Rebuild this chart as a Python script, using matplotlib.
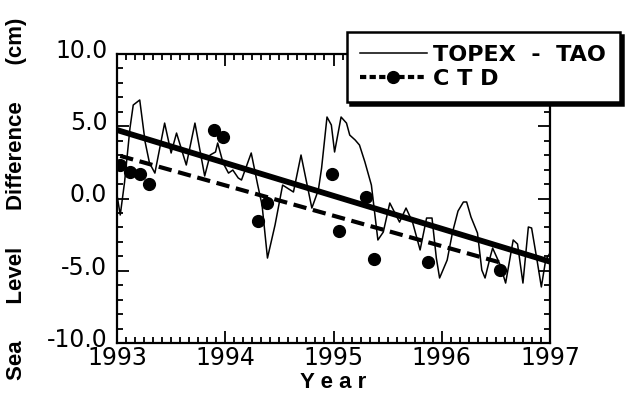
import numpy as np
import matplotlib
matplotlib.use("Agg")
import matplotlib.pyplot as plt
from matplotlib.lines import Line2D
from matplotlib.ticker import MultipleLocator, FormatStrFormatter
import matplotlib.transforms as mtransforms

plt.rcParams['font.family'] = ['Liberation Sans', 'DejaVu Sans']
plt.rcParams['axes.unicode_minus'] = False

# TOPEX - TAO sea level difference (cm)
topex_years = [1993.00, 1993.03, 1993.07, 1993.12, 1993.15, 1993.21, 1993.26, 1993.30,
               1993.35, 1993.44, 1993.50, 1993.55, 1993.64, 1993.72, 1993.81, 1993.86,
               1993.91, 1993.93, 1993.98, 1994.03, 1994.07, 1994.12, 1994.15, 1994.24,
               1994.30, 1994.34, 1994.39, 1994.46, 1994.53, 1994.63, 1994.70, 1994.80,
               1994.86, 1994.89, 1994.94, 1994.98, 1995.01, 1995.07, 1995.12, 1995.15,
               1995.20, 1995.24, 1995.29, 1995.35, 1995.41, 1995.46, 1995.52, 1995.61,
               1995.67, 1995.73, 1995.80, 1995.86, 1995.91, 1995.95, 1995.98, 1996.05,
               1996.10, 1996.15, 1996.20, 1996.23, 1996.27, 1996.33, 1996.37, 1996.40,
               1996.45, 1996.47, 1996.54, 1996.59, 1996.66, 1996.70, 1996.75, 1996.80,
               1996.83, 1996.88, 1996.92, 1996.96, 1997.00]
topex_diff = [0.24, -1.14, 1.14, 4.88, 6.47, 6.82, 3.91, 2.46,
              1.76, 5.22, 3.15, 4.53, 2.32, 5.22, 1.56, 3.01,
              3.22, 3.84, 2.46, 1.76, 1.97, 1.42, 1.28, 3.15,
              0.93, -0.45, -4.12, -1.83, 0.93, 0.45, 3.01, -0.66,
              0.59, 2.11, 5.64, 5.09, 3.22, 5.64, 5.22, 4.39,
              4.05, 3.70, 2.53, 0.93, -2.87, -2.32, -0.31, -1.63,
              -0.66, -1.63, -3.56, -1.35, -1.35, -4.12, -5.50, -4.26,
              -2.32, -0.87, -0.24, -0.24, -1.28, -2.39, -4.95, -5.50,
              -3.98, -3.43, -4.60, -5.85, -2.87, -3.15, -5.85, -1.97,
              -2.04, -4.26, -6.12, -4.26, -3.77]

# CTD estimates
ctd_years = [1993.03, 1993.12, 1993.21, 1993.30, 1993.90, 1993.98, 1994.30,
             1994.39, 1994.99, 1995.05, 1995.30, 1995.37, 1995.87, 1996.54]
ctd_diff = [2.32, 1.85, 1.70, 1.00, 4.74, 4.26, -1.56,
            -0.31, 1.70, -2.25, 0.10, -4.19, -4.39, -4.95]

# trend lines (end points)
topex_trend_years = [1993.0, 1997.0]
topex_trend = [4.74, -4.37]
ctd_trend_years = [1993.03, 1996.55]
ctd_trend = [2.95, -4.45]

fig = plt.figure(figsize=(6.27, 3.94), dpi=100)
ax = fig.add_axes([0.1866, 0.1294, 0.6906, 0.7335])

ax.plot(topex_years, topex_diff, color='k', lw=1.1)
ax.plot(topex_trend_years, topex_trend, color='k', lw=4.2, solid_capstyle='butt')
ax.plot(ctd_trend_years, ctd_trend, color='k', lw=3.0, dashes=(3.2, 1.6))
ax.plot(ctd_years, ctd_diff, 'o', color='k', ms=8.5)

ax.set_xlim(1993, 1997)
ax.set_ylim(-10, 10)
ax.xaxis.set_major_locator(MultipleLocator(1))
ax.xaxis.set_minor_locator(MultipleLocator(1 / 12))
ax.yaxis.set_major_locator(MultipleLocator(5))
ax.yaxis.set_minor_locator(MultipleLocator(1))
ax.xaxis.set_major_formatter(FormatStrFormatter('%d'))
ax.yaxis.set_major_formatter(FormatStrFormatter('%.1f'))

ax.tick_params(which='both', direction='in', top=True, right=True, width=1.3,
               labelsize=17)
ax.tick_params(which='major', length=8.5)
ax.tick_params(which='minor', length=4.2)
ax.tick_params(axis='x', pad=2)
ax.tick_params(axis='y', pad=7)
for sp in ax.spines.values():
    sp.set_linewidth(1.6)

# y tick labels sit a bit above their ticks in the original
shift = mtransforms.ScaledTranslation(0, 4 / 72, fig.dpi_scale_trans)
for lbl in ax.get_yticklabels():
    lbl.set_transform(lbl.get_transform() + shift)
for lbl in ax.get_xticklabels() + ax.get_yticklabels():
    lbl.set_fontfamily('DejaVu Sans')

ax.set_ylabel("Sea      Level      Difference      (cm)", fontsize=16, fontweight='bold')
ax.yaxis.set_label_coords(-0.208, 0.5)
ax.set_xlabel("Y e a r", fontsize=16, fontweight='bold')
ax.xaxis.set_label_coords(0.499, -0.1)

handles = [Line2D([], [], color='k', lw=1.1),
           Line2D([], [], color='k', lw=3.0, dashes=(1.5, 0.8), marker='o', ms=8.5)]
leg = fig.legend(handles, ["TOPEX  -  TAO", "C T D"],
                 loc='upper left', bbox_to_anchor=(0.553, 0.746, 0.436, 0.173),
                 mode='expand', fancybox=False, shadow={'color': 'k', 'alpha': 1},
                 framealpha=1, edgecolor='k', borderpad=0.6, labelspacing=0.15,
                 handlelength=3.0, handletextpad=0.3, borderaxespad=0,
                 prop={'family': 'DejaVu Sans', 'size': 16, 'weight': 'bold'})
leg.get_frame().set_linewidth(1.8)

fig.savefig("out.png", dpi=100)
